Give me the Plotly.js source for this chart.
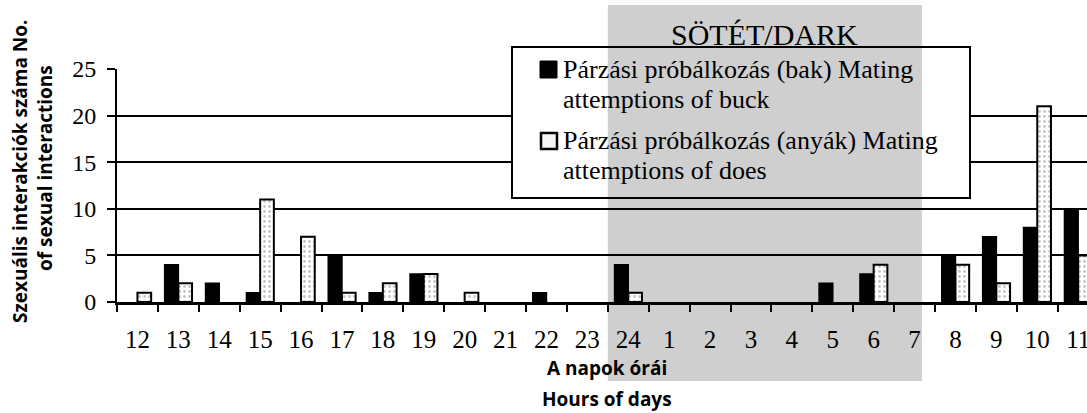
<!DOCTYPE html>
<html>
<head>
<meta charset="utf-8">
<script src="https://cdn.plot.ly/plotly-3.0.1.min.js"></script>
<style>html,body{margin:0;padding:0;background:#fff;}#chart{width:1087px;height:413px;}</style>
</head>
<body>
<div id="chart"></div>
<script>
const hours = ['12','13','14','15','16','17','18','19','20','21','22','23','24','1','2','3','4','5','6','7','8','9','10','11'];
const buck  = [0,4,2,1,0,5,1,3,0,0,1,0,4,0,0,0,0,2,3,0,5,7,8,10];
const does  = [1,2,0,11,7,1,2,3,1,0,0,0,1,0,0,0,0,0,4,0,4,2,21,5];
const yTicks = [0,5,10,15,20,25];
const legendLines = ['Párzási próbálkozás (bak) Mating','attemptions of buck','Párzási próbálkozás (anyák) Mating','attemptions of does'];
const darkLabel = 'SÖTÉT/DARK';
const yTitle = ['Szexuális interakciók száma No.','of sexual interactions'];
const xTitle = ['A napok órái','Hours of days'];

const serif = 'Liberation Serif, Times New Roman, serif';
const sans = 'Open Sans, Noto Sans, sans-serif';
const shade = '#cfcfcf';

// outline only where a bar actually has height
const outline = (vals, w) => vals.map(v => v > 0 ? w : 0);

const traces = [
  {type:'bar', x:hours, y:buck, name:legendLines[0]+' '+legendLines[1], showlegend:false,
   marker:{color:'#000', line:{color:'#000', width:outline(buck, 1.5)}}, hoverinfo:'x+y'},
  {type:'bar', x:hours, y:does, name:legendLines[2]+' '+legendLines[3], showlegend:false,
   marker:{color:'#fff', line:{color:'#000', width:outline(does, 2)},
     pattern:{shape:'.', fgcolor:'#8a8a8a', bgcolor:'#fff', size:5, solidity:0.25, fillmode:'overlay'}},
   hoverinfo:'x+y'}
];

// pixel helpers for paper coords (plot: l=117, w=970, t=69, h=233)
const px = v => (v-117)/970;
const py = v => (302-v)/233;

const darkX0 = 11.5, darkX1 = 19.18;

const layout = {
  width:1087, height:413,
  margin:{l:117, r:0, t:69, b:111, pad:0},
  paper_bgcolor:'#fff', plot_bgcolor:'rgba(0,0,0,0)',
  barmode:'group', bargap:0.33, bargroupgap:0,
  showlegend:false,
  xaxis:{type:'category', range:[-0.5, 23.216], showline:true, linecolor:'#000', linewidth:3,
    layer:'above traces',
    ticks:'outside', tickson:'boundaries', ticklen:7, tickwidth:2, tickcolor:'#000',
    showgrid:false, zeroline:false, fixedrange:true,
    tickfont:{family:serif, size:25, color:'#000'}, ticklabelstandoff:13},
  yaxis:{range:[0,25], tickvals:yTicks, showline:true, linecolor:'#000', linewidth:2,
    ticks:'outside', ticklen:8, tickwidth:2, tickcolor:'#000',
    showgrid:true, gridcolor:'#000', gridwidth:2, zeroline:false, fixedrange:true,
    tickfont:{family:serif, size:24, color:'#000'}, ticklabelstandoff:6},
  shapes:[
    {type:'rect', layer:'below', xref:'x', yref:'paper', x0:darkX0, x1:darkX1, y0:py(381), y1:py(5),
     fillcolor:shade, line:{width:0}},
    {type:'rect', layer:'above', xref:'paper', yref:'paper', x0:px(512), x1:px(970), y0:py(198), y1:py(47),
     fillcolor:'#fff', line:{width:0}},
    {type:'rect', layer:'above', xref:'x', yref:'paper', x0:darkX0, x1:darkX1, y0:py(198), y1:py(47),
     fillcolor:shade, line:{width:0}},
    {type:'rect', layer:'above', xref:'paper', yref:'paper', x0:px(512), x1:px(970), y0:py(198), y1:py(47),
     fillcolor:'rgba(0,0,0,0)', line:{color:'#000', width:2}},
    {type:'rect', layer:'above', xref:'paper', yref:'paper', x0:px(540), x1:px(557), y0:py(78), y1:py(61),
     fillcolor:'#000', line:{color:'#000', width:1}},
    {type:'rect', layer:'above', xref:'paper', yref:'paper', x0:px(541), x1:px(557), y0:py(149), y1:py(133),
     fillcolor:'#f4f4f4', line:{color:'#000', width:2.5}}
  ],
  annotations:[
    {xref:'x', yref:'paper', x:(darkX0+darkX1)/2, y:py(34), xanchor:'center', yanchor:'middle', showarrow:false,
     text:darkLabel, font:{family:serif, size:30, color:'#000'}},
    {xref:'paper', yref:'paper', x:px(561), y:py(69), xanchor:'left', yanchor:'middle', showarrow:false,
     text:legendLines[0], font:{family:serif, size:26, color:'#000'}},
    {xref:'paper', yref:'paper', x:px(561), y:py(99), xanchor:'left', yanchor:'middle', showarrow:false,
     text:legendLines[1], font:{family:serif, size:26, color:'#000'}},
    {xref:'paper', yref:'paper', x:px(561), y:py(140), xanchor:'left', yanchor:'middle', showarrow:false,
     text:legendLines[2], font:{family:serif, size:26, color:'#000'}},
    {xref:'paper', yref:'paper', x:px(561), y:py(170), xanchor:'left', yanchor:'middle', showarrow:false,
     text:legendLines[3], font:{family:serif, size:26, color:'#000'}},
    {xref:'paper', yref:'paper', x:px(20), y:py(172), xanchor:'center', yanchor:'middle', showarrow:false, textangle:-90,
     text:'<b>'+yTitle[0]+'</b>', font:{family:sans, size:19, color:'#000'}},
    {xref:'paper', yref:'paper', x:px(45), y:py(168), xanchor:'center', yanchor:'middle', showarrow:false, textangle:-90,
     text:'<b>'+yTitle[1]+'</b>', font:{family:sans, size:19, color:'#000'}},
    {xref:'paper', yref:'paper', x:px(607), y:py(368), xanchor:'center', yanchor:'middle', showarrow:false,
     text:'<b>'+xTitle[0]+'</b>', font:{family:sans, size:19, color:'#000'}},
    {xref:'paper', yref:'paper', x:px(607), y:py(399), xanchor:'center', yanchor:'middle', showarrow:false,
     text:'<b>'+xTitle[1]+'</b>', font:{family:sans, size:19, color:'#000'}}
  ]
};

Plotly.newPlot('chart', traces, layout, {displayModeBar:false, staticPlot:true});
</script>
</body>
</html>
